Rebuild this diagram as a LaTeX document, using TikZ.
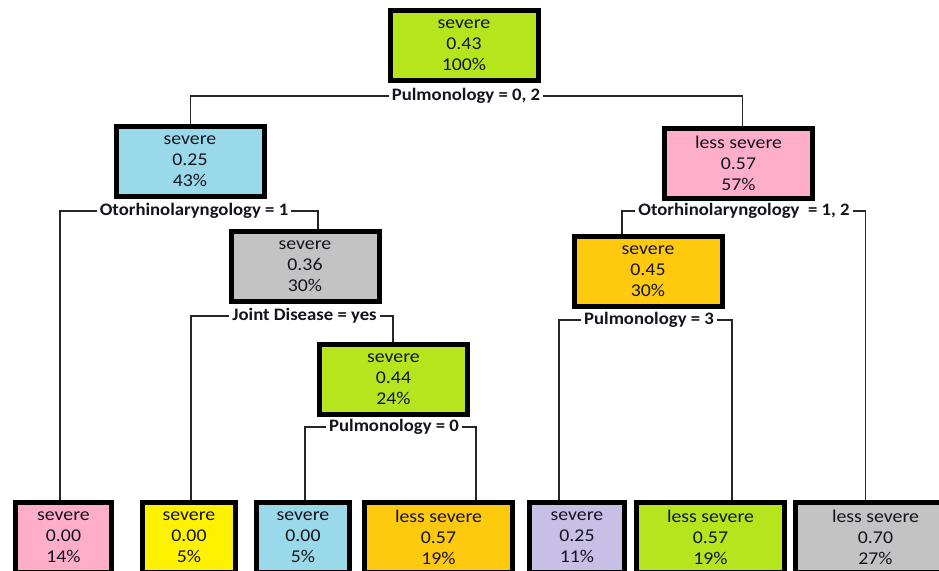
\documentclass[tikz,border=0pt]{standalone}
\usepackage{fontspec}
\setmainfont{Carlito}
\newfontfamily\nodefont[FakeStretch=1.1]{Carlito}
\newfontfamily\splitfont[FakeStretch=1.07]{Carlito}
\definecolor{clime}{HTML}{B5E61D}
\definecolor{cblue}{HTML}{99D9EA}
\definecolor{cpink}{HTML}{FFAEC9}
\definecolor{cgrey}{HTML}{C3C3C3}
\definecolor{cyel}{HTML}{FFF200}
\definecolor{corange}{HTML}{FFC90E}
\definecolor{clav}{HTML}{C8BFE7}
\definecolor{ctext}{HTML}{14141E}
\begin{document}
\begin{tikzpicture}[x=1pt,y=-1pt,
  box/.style={draw=black, line width=5pt, inner sep=0pt, align=center,
    text=ctext, font=\nodefont\fontsize{18}{21}\selectfont},
  wide/.style={minimum width=148pt, minimum height=70pt},
  narrow/.style={minimum width=95pt, minimum height=70pt},
  split/.style={inner sep=3pt, text=ctext, font=\splitfont\fontsize{17.5}{20}\selectfont\bfseries},
  conn/.style={draw=black!85, line width=1.6pt}]
\clip (0,0) rectangle (939,570);
\fill[white] (0,0) rectangle (939,570);
% inner nodes
\node[box, wide, fill=clime] (root) at (464,45) {severe\\0.43\\100\%};
\node[box, wide, fill=cblue] (n1) at (190,161) {severe\\0.25\\43\%};
\node[box, wide, fill=cpink] (n2) at (738.5,163.5) {less severe\\0.57\\57\%};
\node[box, wide, fill=cgrey] (n3) at (305,266.5) {severe\\0.36\\30\%};
\node[box, wide, fill=clime] (n4) at (393.5,379) {severe\\0.44\\24\%};
\node[box, wide, fill=corange] (n5) at (648,271.5) {severe\\0.45\\30\%};
% leaves
\node[box, narrow, minimum width=96pt, fill=cpink] (lf1) at (63.5,537.5) {severe\\0.00\\14\%};
\node[box, narrow, minimum width=93pt, fill=cyel] (lf2) at (189,537.5) {severe\\0.00\\5\%};
\node[box, narrow, minimum width=93pt, fill=cblue] (lf3) at (303,537.5) {severe\\0.00\\5\%};
\node[box, wide, fill=corange] (lf4) at (438.5,537.5) {less severe\\0.57\\19\%};
\node[box, narrow, fill=clav] (lf5) at (577,537.5) {severe\\0.25\\11\%};
\node[box, wide, fill=clime] (lf6) at (710.5,537.5) {less severe\\0.57\\19\%};
\node[box, wide, minimum width=160pt, fill=cgrey] (lf7) at (875.5,537.5) {less severe\\0.70\\27\%};
% split labels
\node[split] (s0) at (466,96) {Pulmonology = 0, 2};
\node[split] (s1) at (194,211) {Otorhinolaryngology = 1};
\node[split] (s2) at (744,211) {Otorhinolaryngology \ = 1, 2};
\node[split] (s3) at (304.5,316) {Joint Disease = yes};
\node[split] (s4) at (394,427) {Pulmonology = 0};
\node[split] (s5) at (649,320) {Pulmonology = 3};
% connectors
\draw[conn] (s0.west) -| ([xshift=0.5pt]n1.north);
\draw[conn] (s0.east) -| ([xshift=4pt]n2.north);
\draw[conn] (s1.west) -| ([xshift=-3.5pt]lf1.north);
\draw[conn] (s1.east) -| ([xshift=13pt]n3.north);
\draw[conn] (s2.west) -| ([xshift=-26pt]n5.north);
\draw[conn] (s2.east) -| ([xshift=-10pt]lf7.north);
\draw[conn] (s3.west) -| ([xshift=2pt]lf2.north);
\draw[conn] (s3.east) -| ([xshift=-0.5pt]n4.north);
\draw[conn] (s4.west) -| ([xshift=2pt]lf3.north);
\draw[conn] (s4.east) -| ([xshift=37.5pt]lf4.north);
\draw[conn] (s5.west) -| ([xshift=-18pt]lf5.north);
\draw[conn] (s5.east) -| ([xshift=21.5pt]lf6.north);
\end{tikzpicture}
\end{document}
